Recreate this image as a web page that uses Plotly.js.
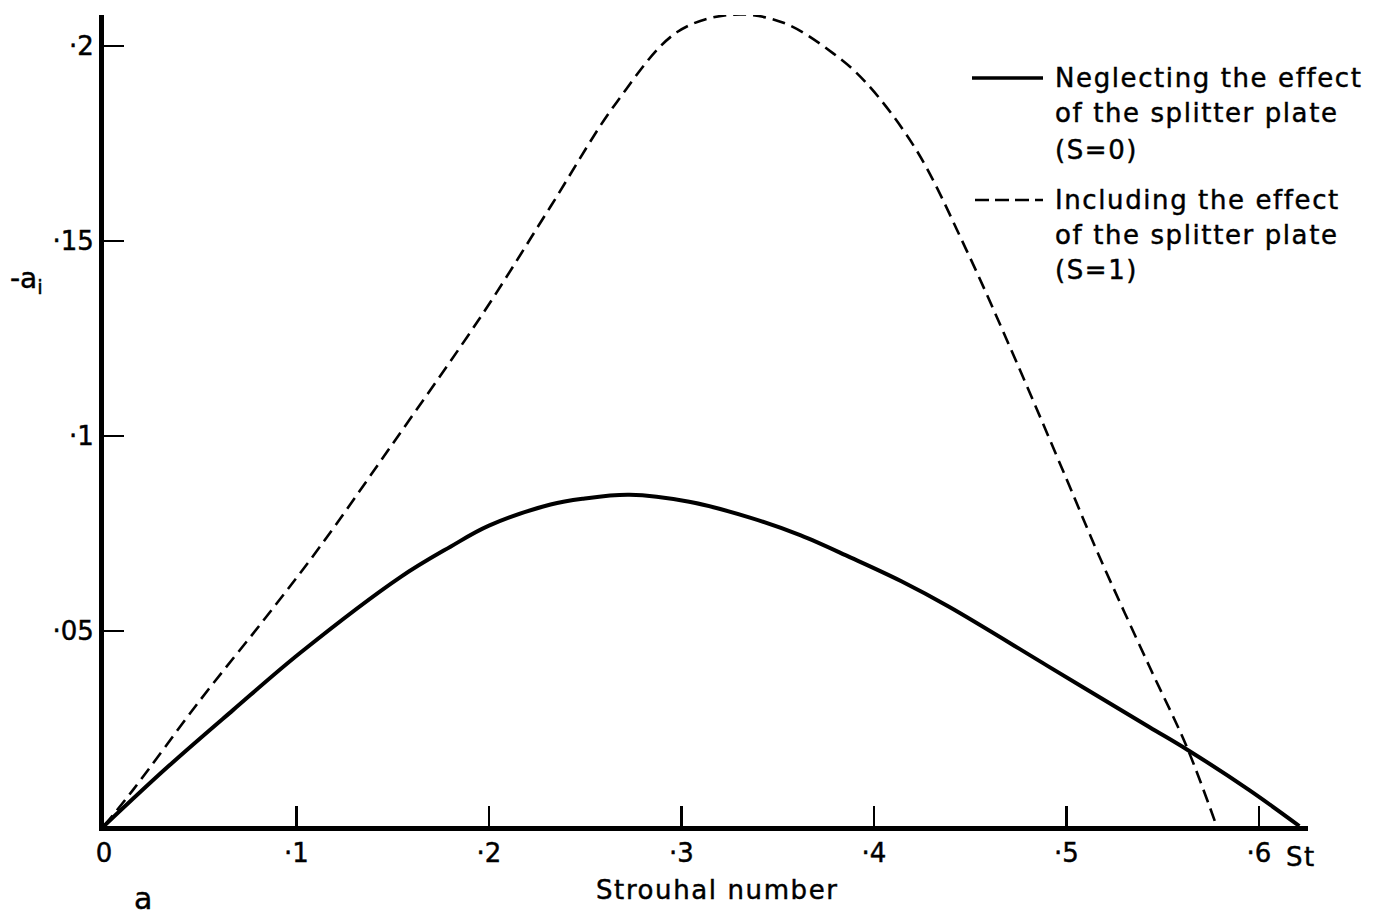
<!DOCTYPE html>
<html>
<head>
<meta charset="utf-8">
<script src="https://cdn.plot.ly/plotly-3.0.1.min.js"></script>
<style>
html,body{margin:0;padding:0;background:#fff;}
#chart{width:1385px;height:915px;}
#chart svg text{stroke:#000;stroke-width:0.45px;}
</style>
</head>
<body>
<div id="chart"></div>
<script>
// Strouhal number (x) vs -a_i (y)
const solidX = [0, 0.033, 0.067, 0.102, 0.154, 0.18, 0.2, 0.232, 0.249, 0.273, 0.304, 0.336, 0.362, 0.388, 0.414, 0.439, 0.491, 0.543, 0.563, 0.595, 0.621];
const solidY = [0, 0.0151, 0.0297, 0.0444, 0.0638, 0.0716, 0.077, 0.0824, 0.0839, 0.0849, 0.0831, 0.079, 0.0745, 0.0688, 0.0628, 0.0562, 0.0408, 0.0254, 0.0195, 0.0092, 0];
const dashX = [0, 0.015, 0.05, 0.083, 0.111, 0.149, 0.197, 0.232, 0.266, 0.298, 0.327, 0.353, 0.379, 0.396, 0.422, 0.448, 0.474, 0.5, 0.517, 0.543, 0.5625, 0.578];
const dashY = [0, 0.0092, 0.0323, 0.0528, 0.0708, 0.0973, 0.1315, 0.1588, 0.1853, 0.2036, 0.208, 0.2059, 0.198, 0.1905, 0.1733, 0.1477, 0.119, 0.089, 0.0692, 0.041, 0.0203, 0];

const xTickVals = [0, 0.1, 0.2, 0.3, 0.4, 0.5, 0.6];
const xTickText = ['0', '·1', '·2', '·3', '·4', '·5', '·6'];
const yTickVals = [0.05, 0.1, 0.15, 0.2];
const yTickText = ['·05', '·1', '·15', '·2'];

const legendSolid = ['Neglecting the effect', 'of the splitter plate', '(S=0)'];
const legendDash = ['Including the effect', 'of the splitter plate', '(S=1)'];

const xTitle = 'Strouhal number';
const yTitle = '-a<sub>i</sub>';
const xUnit = 'St';
const panelLabel = 'a';

const FONT = 'DejaVu Sans, sans-serif';
const fs = 26;
const sp = t => '<span style="letter-spacing:1.6px">' + t + '</span>';

const traces = [
  {x: solidX, y: solidY, mode: 'lines', line: {color: '#000', width: 4, shape: 'spline', smoothing: 1}, showlegend: false, hoverinfo: 'skip'},
  {x: dashX, y: dashY, mode: 'lines', line: {color: '#000', width: 2.6, dash: '13px,7px', shape: 'spline', smoothing: 1}, showlegend: false, hoverinfo: 'skip'}
];

// pixel helpers for paper coordinates (plot area 104..1308 x, 15..826 y)
const L = 104, R = 1308, T = 15, B = 826;
const px = v => (v - L) / (R - L);
const py = v => (B - v) / (B - T);

const annotations = [];
function txt(t, x, y, xa, size) {
  annotations.push({text: t, xref: 'paper', yref: 'paper', x: px(x), y: py(y), xanchor: xa, yanchor: 'middle', showarrow: false, font: {family: FONT, size: size || fs, color: '#000'}});
}
const lineYs1 = [78, 113, 150];
const lineYs2 = [200, 235, 270];
legendSolid.forEach((t, i) => txt(sp(t), 1053, lineYs1[i], 'left'));
legendDash.forEach((t, i) => txt(sp(t), 1053, lineYs2[i], 'left'));
txt(sp(xUnit), 1284, 857, 'left');
txt(sp(xTitle), 717, 890, 'center');
txt(panelLabel, 143, 898, 'center', 30);
txt(yTitle, 26, 280, 'center', 28);

const shapes = [
  {type: 'line', xref: 'paper', yref: 'paper', x0: px(972), x1: px(1043), y0: py(78), y1: py(78), line: {color: '#000', width: 3.5}},
  {type: 'line', xref: 'paper', yref: 'paper', x0: px(975), x1: px(1043), y0: py(200), y1: py(200), line: {color: '#000', width: 2.6, dash: '14px,6px'}}
];

const layout = {
  width: 1385, height: 915,
  margin: {l: L, r: 1385 - R, t: T, b: 915 - B},
  paper_bgcolor: '#fff', plot_bgcolor: '#fff',
  showlegend: false,
  xaxis: {range: [0, 0.6255], showline: true, linewidth: 5, linecolor: '#000', ticks: 'inside', ticklen: 20, tickwidth: 2.5, tickcolor: '#000',
          tickvals: xTickVals, ticktext: xTickText, showgrid: false, zeroline: false, tickfont: {family: FONT, size: fs, color: '#000'}, fixedrange: true},
  yaxis: {range: [0, 0.2079], showline: true, linewidth: 5, linecolor: '#000', ticks: 'inside', ticklen: 20, tickwidth: 2.5, tickcolor: '#000',
          tickvals: yTickVals, ticktext: yTickText, showgrid: false, zeroline: false, tickfont: {family: FONT, size: fs, color: '#000'}, fixedrange: true},
  annotations: annotations,
  shapes: shapes
};

Plotly.newPlot('chart', traces, layout, {displayModeBar: false, staticPlot: true});
</script>
</body>
</html>
